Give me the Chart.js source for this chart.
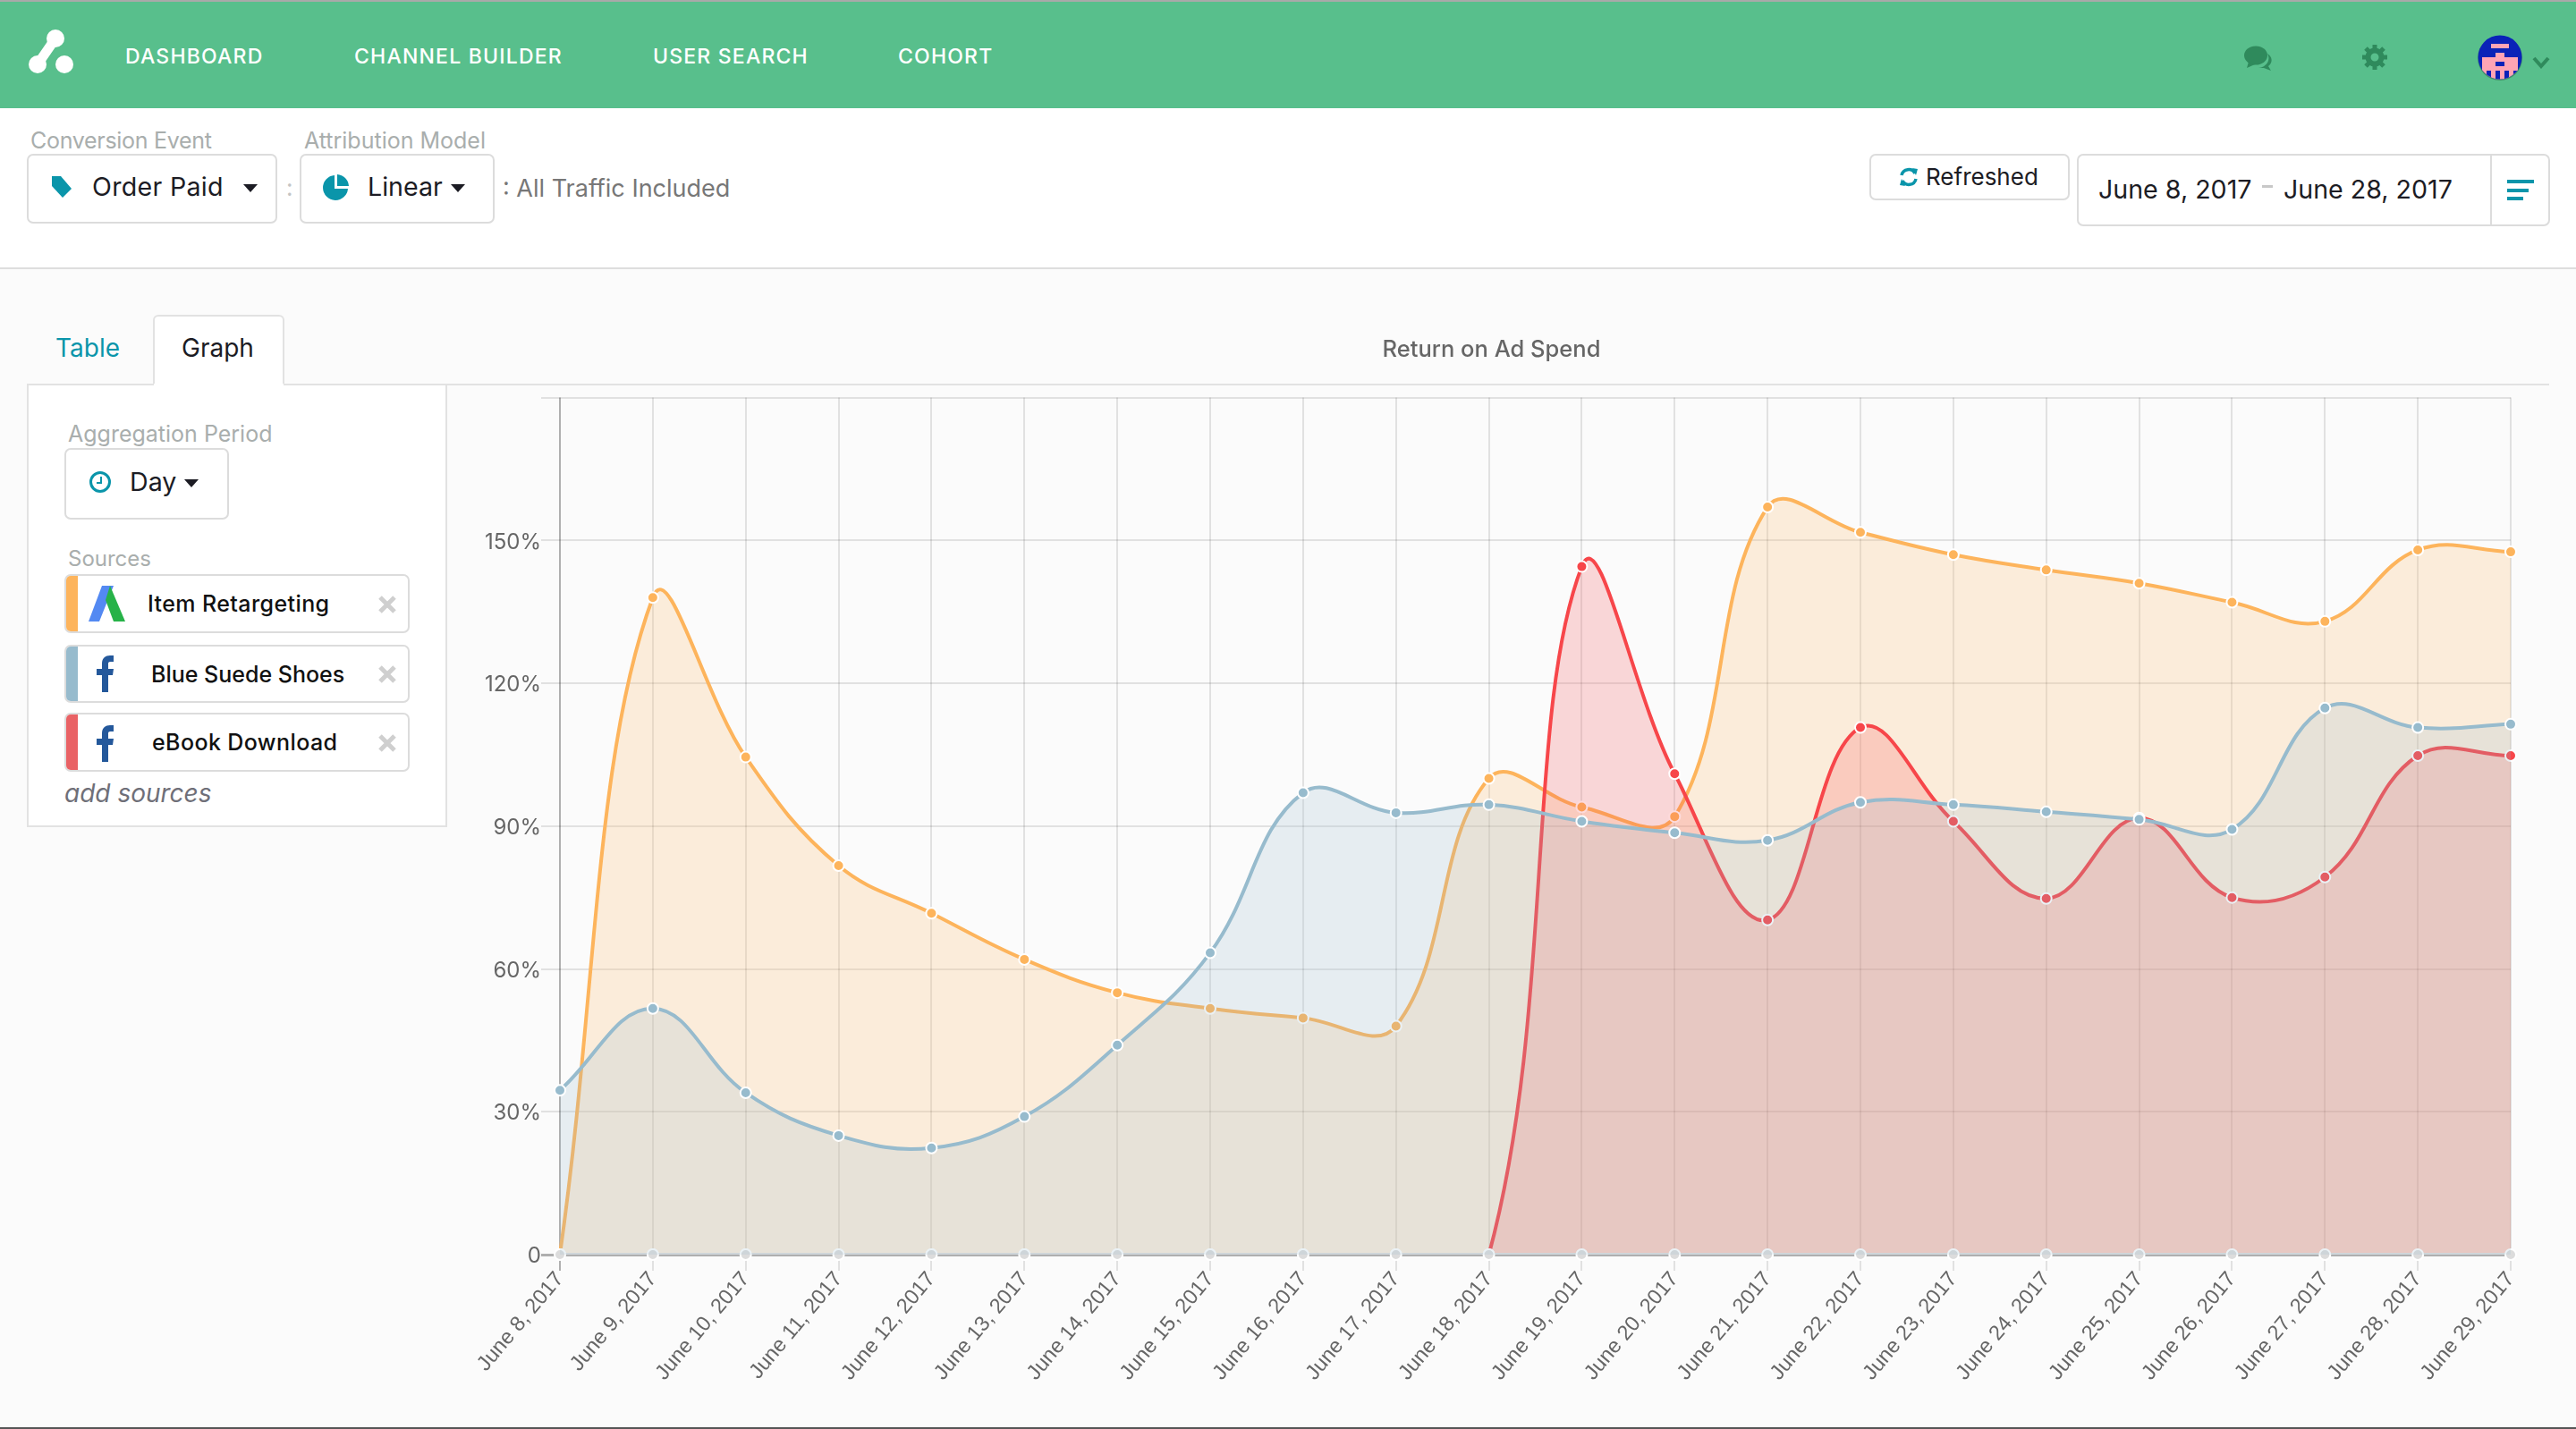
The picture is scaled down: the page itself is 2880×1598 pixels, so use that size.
<!DOCTYPE html>
<html>
<head>
<meta charset="utf-8">
<title>Return on Ad Spend</title>
<script src="https://cdn.jsdelivr.net/npm/chart.js@4/dist/chart.umd.min.js"></script>
<style>
html, body { margin: 0; padding: 0; width: 2880px; height: 1598px; overflow: hidden; background: #fbfbfb; font-family: Inter, "Noto Sans", sans-serif; color: #1c1c24; }
.abs { position: absolute; box-sizing: border-box; }
.t { position: absolute; white-space: nowrap; transform: translateY(-50%); line-height: 1; }
.nav { color: #fff; font-size: 23px; font-weight: 500; letter-spacing: 1.2px; }
.lab { color: #a9aead; font-size: 25px; }
.btn { position: absolute; box-sizing: border-box; background: #fff; border: 2px solid #dcdcdc; border-radius: 7px; }
.val { font-size: 28.6px; }
.src { position: absolute; box-sizing: border-box; left: 72px; width: 386px; background: #fff; border: 2px solid #dcdcdc; border-radius: 7px; overflow: hidden; }
.src i { position: absolute; left: 0; top: 0; bottom: 0; width: 13px; }
.name { font-size: 25px; font-weight: 500; color: #111; letter-spacing: 0.4px; }
svg { position: absolute; overflow: visible; }
canvas { position: absolute; left: 500px; top: 370px; }
</style>
</head>
<body>
<!-- top bar -->
<div class="abs" style="left:0;top:0;width:2880px;height:2px;background:#a9a9a9"></div>
<div class="abs" style="left:0;top:2px;width:2880px;height:119px;background:#58bf8c"></div>
<svg style="left:0;top:0" width="100" height="100">
  <path d="M62 43 L42 72" stroke="#fff" stroke-width="11" stroke-linecap="round" fill="none"/>
  <circle cx="62" cy="43" r="10" fill="#fff"/>
  <circle cx="42" cy="72" r="10" fill="#fff"/>
  <circle cx="72" cy="72" r="10" fill="#fff"/>
</svg>
<div class="t nav" style="left:140px;top:63px">DASHBOARD</div>
<div class="t nav" style="left:396px;top:63px">CHANNEL BUILDER</div>
<div class="t nav" style="left:730px;top:63px">USER SEARCH</div>
<div class="t nav" style="left:1004px;top:63px">COHORT</div>
<!-- chat, gear, avatar -->
<svg style="left:2509px;top:52px" width="34" height="26">
  <path d="M26 8a11 9 0 0 1 1 14l3 5l-8-3l-6 0a13 11 0 0 0 10-16z" fill="#2f8a5c"/>
  <ellipse cx="13" cy="10" rx="13" ry="10.5" fill="#2f8a5c"/>
  <path d="M5 17L3 24L12 20Z" fill="#2f8a5c"/>
</svg>
<svg style="left:2641px;top:50px" width="28" height="28" viewBox="-14 -14 28 28">
  <circle r="7.5" fill="none" stroke="#2f8a5c" stroke-width="6"/>
  <path d="M0-14V-9M0 14V9M-14 0H-9M14 0H9M-10-10L-6-6M10 10L6 6M-10 10L-6 6M10-10L6-6" stroke="#2f8a5c" stroke-width="5"/>
</svg>
<svg style="left:2770px;top:39px" width="50" height="50">
  <defs><clipPath id="av"><circle cx="25" cy="25" r="24.5"/></clipPath></defs>
  <circle cx="25" cy="26" r="25" fill="#000" opacity="0.25"/>
  <g clip-path="url(#av)">
    <rect width="50" height="50" fill="#0a22b8"/>
    <rect x="15" y="10" width="20" height="5" fill="#ffa4b4"/>
    <rect x="20" y="20" width="10" height="5" fill="#ffa4b4"/>
    <rect x="5" y="25" width="40" height="25" fill="#ffa4b4"/>
    <rect x="20" y="30" width="10" height="5" fill="#0a22b8"/>
    <rect x="10" y="40" width="5" height="10" fill="#0a22b8"/>
    <rect x="20" y="40" width="5" height="10" fill="#0a22b8"/>
    <rect x="30" y="40" width="5" height="10" fill="#0a22b8"/>
    <rect x="40" y="40" width="5" height="10" fill="#0a22b8"/>
  </g>
</svg>
<svg style="left:2831px;top:63px" width="20" height="14"><path d="M2 2L10 11L18 2" fill="none" stroke="#2f8a5c" stroke-width="4"/></svg>

<!-- toolbar -->
<div class="abs" style="left:0;top:121px;width:2880px;height:180px;background:#fff;border-bottom:2px solid #dedede"></div>
<div class="t lab" style="left:34px;top:157px;letter-spacing:-0.3px">Conversion Event</div>
<div class="t lab" style="left:340px;top:157px">Attribution Model</div>
<div class="btn" style="left:30px;top:172px;width:280px;height:78px"></div>
<svg style="left:56px;top:196px" width="26" height="26" viewBox="0 0 26 26"><path d="M2 1H12L24 15L14 25L2 12Z" fill="#0a95aa"/></svg>
<div class="t val" style="left:103px;top:209px;letter-spacing:0.3px">Order Paid</div>
<svg style="left:272px;top:206px" width="16" height="9"><path d="M0 0H16L8 9Z" fill="#1c1c24"/></svg>
<div class="t" style="left:320px;top:210px;font-size:26px;color:#c4c4c4">:</div>
<div class="btn" style="left:335px;top:172px;width:218px;height:78px"></div>
<svg style="left:362px;top:195px" width="28" height="28" viewBox="-14 -14 28 28">
  <path d="M-2-13V2H13A14 14 0 1 1-2-13Z" fill="#0a95aa"/>
  <path d="M1-14A14 14 0 0 1 14-1H1Z" fill="#0a95aa"/>
</svg>
<div class="t val" style="left:411px;top:209px">Linear</div>
<svg style="left:504px;top:206px" width="16" height="9"><path d="M0 0H16L8 9Z" fill="#1c1c24"/></svg>
<div class="t" style="left:562px;top:210px;font-size:27px;color:#777">: All Traffic Included</div>

<div class="btn" style="left:2090px;top:172px;width:224px;height:52px"></div>
<svg style="left:2123px;top:187px" width="22" height="22" viewBox="-11 -11 22 22">
  <path d="M-8-2A8 8 0 0 1 7-4M8 2A8 8 0 0 1-7 4" fill="none" stroke="#0a95aa" stroke-width="3.5"/>
  <path d="M4-10L10-9L8-2ZM-4 10L-10 9L-8 2Z" fill="#0a95aa"/>
</svg>
<div class="t" style="left:2153px;top:198px;font-size:26px">Refreshed</div>
<div class="btn" style="left:2322px;top:172px;width:529px;height:81px"></div>
<div class="abs" style="left:2784px;top:172px;width:2px;height:81px;background:#dcdcdc"></div>
<div class="t val" style="left:2346px;top:212px">June 8, 2017</div>
<div class="abs" style="left:2529px;top:207px;width:12px;height:3px;background:#c8c8c8"></div>
<div class="t val" style="left:2553px;top:212px">June 28, 2017</div>
<div class="abs" style="left:2803px;top:201px;width:30px;height:4px;background:#0a95aa"></div>
<div class="abs" style="left:2803px;top:211px;width:24px;height:4px;background:#0a95aa"></div>
<div class="abs" style="left:2803px;top:220px;width:18px;height:4px;background:#0a95aa"></div>

<!-- tabs and sidebar -->
<div class="abs" style="left:30px;top:429px;width:2820px;height:2px;background:#e2e2e2"></div>
<div class="abs" style="left:171px;top:352px;width:147px;height:80px;background:#fff;border:2px solid #e2e2e2;border-bottom:none;border-radius:6px 6px 0 0"></div>
<div class="t" style="left:62px;top:389px;font-size:28px;color:#0a95aa">Table</div>
<div class="t" style="left:203px;top:389px;font-size:28px">Graph</div>
<div class="abs" style="left:30px;top:431px;width:470px;height:494px;background:#fff;border:2px solid #e2e2e2;border-top:none"></div>
<div class="abs" style="left:172px;top:429px;width:145px;height:4px;background:#fff"></div>
<div class="t lab" style="left:76px;top:485px">Aggregation Period</div>
<div class="btn" style="left:72px;top:501px;width:184px;height:80px"></div>
<svg style="left:99px;top:526px" width="26" height="26" viewBox="-13 -13 26 26">
  <circle r="10.5" fill="none" stroke="#0a95aa" stroke-width="3"/>
  <path d="M1-6V1H-4" fill="none" stroke="#0a95aa" stroke-width="2"/>
</svg>
<div class="t val" style="left:145px;top:539px">Day</div>
<svg style="left:206px;top:536px" width="16" height="9"><path d="M0 0H16L8 9Z" fill="#1c1c24"/></svg>
<div class="t lab" style="left:76px;top:625px;font-size:24px">Sources</div>

<div class="src" style="top:642px;height:66px"><i style="background:#fdb45c"></i></div>
<svg style="left:99px;top:655px" width="41" height="41" viewBox="0 0 41 41">
  <path d="M15 0H28L12 40H0Z" fill="#5389f2"/>
  <path d="M24 0L41 40H28L19 16Z" fill="#27b248"/>
</svg>
<div class="t name" style="left:165px;top:675px">Item Retargeting</div>
<div class="src" style="top:721px;height:65px"><i style="background:#97bbcd"></i></div>
<svg style="left:108px;top:733px" width="20" height="41" viewBox="0 0 20 41"><path d="M6 41V22H0V15H6V9C6 3 10 0 15 0H19V7H16C13 7 13 8 13 10V15H19L18 22H13V41Z" fill="#24589b"/></svg>
<div class="t name" style="left:169px;top:754px;letter-spacing:0">Blue Suede Shoes</div>
<div class="src" style="top:797px;height:66px"><i style="background:#e96265"></i></div>
<svg style="left:108px;top:811px" width="20" height="41" viewBox="0 0 20 41"><path d="M6 41V22H0V15H6V9C6 3 10 0 15 0H19V7H16C13 7 13 8 13 10V15H19L18 22H13V41Z" fill="#24589b"/></svg>
<div class="t name" style="left:170px;top:830px">eBook Download</div>
<svg style="left:423px;top:666px" width="20" height="20"><path d="M2 2L18 18M18 2L2 18" stroke="#cfcfcf" stroke-width="5"/></svg>
<svg style="left:423px;top:744px" width="20" height="20"><path d="M2 2L18 18M18 2L2 18" stroke="#cfcfcf" stroke-width="5"/></svg>
<svg style="left:423px;top:821px" width="20" height="20"><path d="M2 2L18 18M18 2L2 18" stroke="#cfcfcf" stroke-width="5"/></svg>
<div class="t" style="left:72px;top:887px;font-size:28px;font-style:italic;color:#6f6f78">add sources</div>

<canvas id="graficoRoas" width="2334" height="1220"></canvas>
<div class="abs" style="left:0;top:1596px;width:2880px;height:2px;background:#555"></div>

<script>
const datas = ['June 8, 2017', 'June 9, 2017', 'June 10, 2017', 'June 11, 2017', 'June 12, 2017', 'June 13, 2017', 'June 14, 2017', 'June 15, 2017', 'June 16, 2017', 'June 17, 2017', 'June 18, 2017', 'June 19, 2017', 'June 20, 2017', 'June 21, 2017', 'June 22, 2017', 'June 23, 2017', 'June 24, 2017', 'June 25, 2017', 'June 26, 2017', 'June 27, 2017', 'June 28, 2017', 'June 29, 2017'];
const itemRetargeting = [0, 138, 104.5, 81.7, 71.7, 62, 55, 51.7, 49.7, 48, 100, 94, 92, 157, 151.7, 147, 143.8, 141, 137, 133, 148, 147.6];
const blueSuedeShoes = [34.5, 51.7, 34, 25, 22.4, 29, 44, 63.4, 97, 92.8, 94.5, 91, 88.6, 87, 95, 94.5, 93, 91.4, 89.3, 114.8, 110.7, 111.4];
const ebookDownload = [0, 0, 0, 0, 0, 0, 0, 0, 0, 0, 0, 144.5, 101, 70.3, 110.7, 91, 74.8, 91.7, 75, 79.3, 104.8, 104.8];
const semDados = [0, 0, 0, 0, 0, 0, 0, 0, 0, 0, 0, 0, 0, 0, 0, 0, 0, 0, 0, 0, 0, 0];
const rotulosY = ['0', '30%', '60%', '90%', '120%', '150%', ''];

// lines are cut at the baseline, the dots are not
const cortaBase = { left: 8, right: 8, top: 8, bottom: 0 };

function serie(label, data, cor, fundo) {
    return {
        label: label,
        data: data,
        borderColor: cor,
        backgroundColor: fundo,
        pointBackgroundColor: cor,
        pointBorderColor: '#fff',
        pointBorderWidth: 2,
        pointRadius: 6,
        borderWidth: 4,
        tension: 0.4,
        clip: cortaBase,
        fill: 'origin'
    };
}

// the first dataset is painted last, so blue ends up on top
new Chart(document.getElementById('graficoRoas'), {
    type: 'line',
    data: {
        labels: datas,
        datasets: [
            serie('Blue Suede Shoes', blueSuedeShoes, '#97BBCD', 'rgba(151,187,205,0.2)'),
            { ...serie('', semDados, '#DCDCDC', 'transparent'), showLine: false, fill: false, clip: false },
            { ...serie('', semDados, '#DCDCDC', 'transparent'), pointRadius: 0, fill: false },
            serie('eBook Download', ebookDownload, '#F7464A', 'rgba(247,70,74,0.2)'),
            serie('Item Retargeting', itemRetargeting, '#FDB45C', 'rgba(253,180,92,0.2)')
        ]
    },
    options: {
        responsive: false,
        animation: false,
        devicePixelRatio: 1,
        layout: { padding: { left: 28, right: 27, top: 0, bottom: 0 } },
        plugins: {
            legend: { display: false },
            tooltip: { enabled: false },
            title: {
                display: true,
                text: 'Return on Ad Spend',
                color: '#666',
                font: { family: 'Inter', size: 25.5, weight: '500' },
                padding: { top: 6, bottom: 38 }
            }
        },
        scales: {
            x: {
                offset: false,
                afterFit: s => { s.height = 187; s.paddingLeft = 0; s.paddingRight = 0; },
                grid: {
                    color: c => c.index === 0 ? 'rgba(0,0,0,0.3)' : 'rgba(0,0,0,0.1)',
                    lineWidth: 2,
                    tickLength: 18
                },
                border: { display: false },
                ticks: {
                    autoSkip: false,
                    minRotation: 50,
                    maxRotation: 50,
                    padding: -4,
                    color: '#666',
                    font: { family: '"Liberation Sans"', size: 23.5 }
                }
            },
            y: {
                min: 0,
                max: 180,
                afterFit: s => { s.width = 98; },
                grid: {
                    color: c => c.index === 0 ? 'rgba(0,0,0,0.3)' : 'rgba(0,0,0,0.1)',
                    lineWidth: c => c.index === 0 ? 3 : 2,
                    tickLength: 21
                },
                border: { display: false },
                ticks: {
                    stepSize: 30,
                    padding: 0,
                    labelOffset: 2,
                    color: '#666',
                    font: { family: 'Inter', size: 24 },
                    callback: (v, i) => rotulosY[i]
                }
            }
        }
    }
});
</script>
</body>
</html>
